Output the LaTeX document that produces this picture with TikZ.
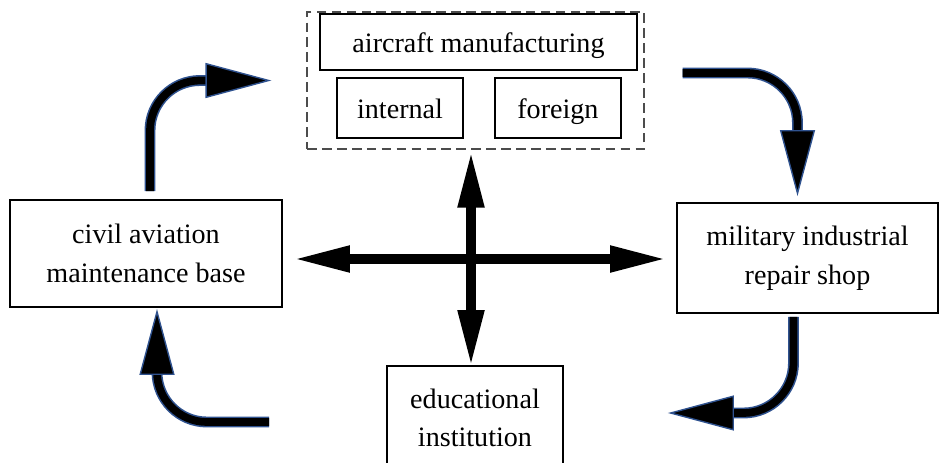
\documentclass[tikz,border=0pt]{standalone}
\usepackage{fontspec}
\setmainfont{Liberation Serif}
\usetikzlibrary{positioning,calc,arrows.meta}
\definecolor{rimblue}{HTML}{2F528F}

\begin{document}
\begin{tikzpicture}[
    x=0.02cm, y=-0.02cm,
    box/.style={draw=black, line width=1.1pt, align=center, inner sep=0pt,
        font=\fontsize{16}{22}\selectfont},
    onebox/.style={box, text height=15pt, text depth=2.5pt},
    subbox/.style={onebox, minimum width=2.52cm, minimum height=1.2cm},
    frame/.style={draw=black!70, line width=0.7pt, dash pattern=on 5.5pt off 3pt,
        minimum width=6.74cm, minimum height=2.74cm},
    biarrow/.style={line width=6pt,
        {Triangle[length=1.16cm,width=0.48cm]}-{Triangle[length=1.16cm,width=0.48cm]}},
    curvy/.style={draw=black, line width=4.4pt, rounded corners=1cm,
        preaction={draw=rimblue, line width=6.2pt, -, shorten >=1cm},
        -{Triangle[length=1.32cm,width=0.7cm,line width=0.8pt,color=rimblue,fill=black]}}
]
\useasboundingbox (0,0) rectangle (940,463);

% Aircraft manufacturing group
\node[frame] (mfgframe) at (475.5,80.5) {};
\node[onebox, minimum width=6.34cm, minimum height=1.12cm] (air) at (478.5,42) {aircraft manufacturing};
\node[subbox, below right=0.12cm and 0.34cm of air.south west] (internal) {internal};
\node[subbox, right=0.6cm of internal] (foreign) {foreign};

% Side and bottom boxes
\node[box, minimum width=5.44cm, minimum height=2.14cm] (civil) at (146,253.5) {civil aviation\\maintenance base};
\node[box, minimum width=5.22cm, minimum height=2.2cm] (military) at (807.5,258) {military industrial\\repair shop};
\node[box, minimum width=3.52cm, minimum height=2.08cm] (edu) at (475,418) {educational\\institution};

% Central cross
\coordinate (hub) at (471,259);
\draw[biarrow, shorten <=0.18cm, shorten >=0.16cm] (civil.east |- hub) -- (military.west |- hub);
\draw[biarrow, shorten <=0cm, shorten >=-0.06cm] (hub |- mfgframe.south) -- (hub |- edu.north);

% Cycle arrows
\draw[curvy] ([xshift=0.08cm,yshift=0.16cm]civil.north) |- ([xshift=-0.7cm]mfgframe.west);
\draw[curvy] ([xshift=0.76cm,yshift=0.15cm]mfgframe.east) -| ([xshift=-0.2cm,yshift=0.12cm]military.north);
\draw[curvy] ([xshift=-0.28cm,yshift=-0.06cm]military.south) |- ([xshift=2.08cm,yshift=0.1cm]edu.east);
\draw[curvy] ([xshift=-2.34cm,yshift=-0.08cm]edu.west) -| ([xshift=0.22cm,yshift=-0.02cm]civil.south);

\end{tikzpicture}
\end{document}
